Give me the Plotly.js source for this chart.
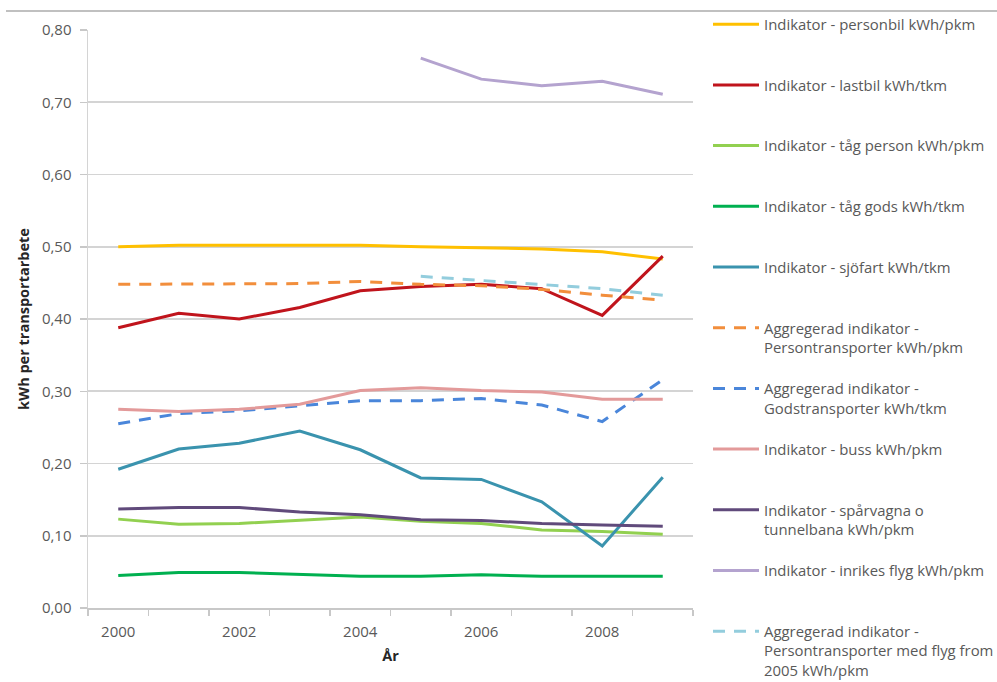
<!DOCTYPE html>
<html>
<head>
<meta charset="utf-8">
<script src="https://cdn.plot.ly/plotly-3.0.1.min.js"></script>
<style>html,body{margin:0;padding:0;background:#fff;}#chart{width:997px;height:682px;}</style>
</head>
<body>
<div id="chart"></div>
<script>
const years = [2000, 2001, 2002, 2003, 2004, 2005, 2006, 2007, 2008, 2009];
const yearsFrom2005 = [2005, 2006, 2007, 2008, 2009];

const personbil = [0.500, 0.502, 0.502, 0.502, 0.502, 0.500, 0.498, 0.497, 0.493, 0.483];
const lastbil = [0.388, 0.408, 0.400, 0.416, 0.439, 0.445, 0.448, 0.442, 0.405, 0.487];
const tagPerson = [0.123, 0.116, 0.117, 0.122, 0.126, 0.120, 0.117, 0.108, 0.106, 0.102];
const tagGods = [0.045, 0.049, 0.049, 0.047, 0.044, 0.044, 0.046, 0.044, 0.044, 0.044];
const sjofart = [0.192, 0.220, 0.228, 0.245, 0.219, 0.180, 0.178, 0.147, 0.086, 0.181];
const aggPerson = [0.448, 0.448, 0.448, 0.449, 0.452, 0.448, 0.446, 0.441, 0.433, 0.426];
const aggGods = [0.255, 0.269, 0.273, 0.280, 0.287, 0.287, 0.290, 0.281, 0.258, 0.316];
const buss = [0.275, 0.272, 0.275, 0.282, 0.301, 0.305, 0.301, 0.299, 0.289, 0.289];
const sparvagna = [0.137, 0.139, 0.139, 0.133, 0.129, 0.122, 0.121, 0.117, 0.115, 0.113];
const inrikesFlyg = [0.761, 0.732, 0.723, 0.729, 0.711];
const aggPersonFlyg = [0.459, 0.453, 0.448, 0.442, 0.433];

const seriesNames = [
  "Indikator - personbil kWh/pkm",
  "Indikator - lastbil kWh/tkm",
  "Indikator - tåg person kWh/pkm",
  "Indikator - tåg gods kWh/tkm",
  "Indikator - sjöfart kWh/tkm",
  "Aggregerad indikator -<br>Persontransporter kWh/pkm",
  "Aggregerad indikator -<br>Godstransporter kWh/tkm",
  "Indikator - buss kWh/pkm",
  "Indikator - spårvagna o<br>tunnelbana kWh/pkm",
  "Indikator - inrikes flyg kWh/pkm",
  "Aggregerad indikator -<br>Persontransporter med flyg from<br>2005 kWh/pkm"
];
const xTickVals = [2000, 2002, 2004, 2006, 2008];
const yTickVals = [0, 0.1, 0.2, 0.3, 0.4, 0.5, 0.6, 0.7, 0.8];

const specs = [
  {x: years, y: personbil, color: "#FFC000", dash: "solid"},
  {x: years, y: lastbil, color: "#C0141C", dash: "solid"},
  {x: years, y: tagPerson, color: "#92D050", dash: "solid"},
  {x: years, y: tagGods, color: "#00B050", dash: "solid"},
  {x: years, y: sjofart, color: "#3A93AE", dash: "solid"},
  {x: years, y: aggPerson, color: "#F28E3C", dash: "12px,9px"},
  {x: years, y: aggGods, color: "#4A86DA", dash: "12px,9px"},
  {x: years, y: buss, color: "#E39A9A", dash: "solid"},
  {x: years, y: sparvagna, color: "#604A7B", dash: "solid"},
  {x: yearsFrom2005, y: inrikesFlyg, color: "#B4A3CF", dash: "solid"},
  {x: yearsFrom2005, y: aggPersonFlyg, color: "#93CDDD", dash: "12px,9px"}
];

// plot area in pixels
const W = 997, H = 682;
const L = 88, R = 693, T = 30, B = 608;
const pw = R - L, ph = B - T;

const traces = specs.map((s, i) => ({
  type: "scatter",
  mode: "lines",
  x: s.x,
  y: s.y,
  name: seriesNames[i],
  line: {color: s.color, width: 3, dash: s.dash},
  legend: i === 0 ? "legend" : "legend" + (i + 1),
  hoverinfo: "skip"
}));

const legendFont = {family: "Open Sans, sans-serif", size: 14.9, color: "#595959"};
const layout = {
  width: W, height: H,
  margin: {l: L, r: W - R, t: T, b: H - B, pad: 0, autoexpand: false},
  paper_bgcolor: "#ffffff",
  plot_bgcolor: "#ffffff",
  separators: ", ",
  font: {family: "Open Sans, sans-serif", size: 15, color: "#595959"},
  xaxis: {
    range: [1999.5, 2009.5],
    tickmode: "array",
    tickvals: xTickVals,
    ticktext: xTickVals.map(String),
    ticks: "",
    ticklabelstandoff: 9,
    showgrid: false,
    zeroline: false,
    showline: true,
    linecolor: "#c8c8c8",
    linewidth: 1.5,
    automargin: false,
    tickfont: {family: "Open Sans, sans-serif", size: 15, color: "#595959"},
    minor: {tick0: 1999.5, dtick: 1, ticks: "outside", ticklen: 6, tickcolor: "#c8c8c8", tickwidth: 1.5, showgrid: false},
    title: {text: "<b>År</b>", font: {family: "Open Sans, sans-serif", size: 14.5, color: "#262626"}, standoff: 11},
    fixedrange: true
  },
  yaxis: {
    range: [0, 0.8],
    tickmode: "array",
    tickvals: yTickVals,
    tickformat: ".2f",
    ticks: "outside",
    ticklen: 7,
    ticklabelstandoff: 5,
    tickcolor: "#c8c8c8",
    tickwidth: 1.5,
    showgrid: true,
    gridcolor: "#d4d4d4",
    gridwidth: 1.8,
    zeroline: false,
    showline: true,
    linecolor: "#d4d4d4",
    linewidth: 1.5,
    automargin: false,
    tickfont: {family: "Open Sans, sans-serif", size: 15, color: "#595959"},
    title: {text: "<b>kWh per transportarbete</b>", font: {family: "Open Sans, sans-serif", size: 14.5, color: "#262626"}, standoff: 9},
    fixedrange: true
  },
  showlegend: true,
  shapes: [{
    type: "line", xref: "paper", yref: "paper",
    x0: (6 - L) / pw, x1: (997 - L) / pw,
    y0: (B - 11) / ph, y1: (B - 11) / ph,
    line: {color: "#c0c0c0", width: 2}
  }]
};

// one legend box per entry, stacked at a fixed pitch like the original
const legendLeftPx = 708;
const firstLinePx = 25, pitchPx = 60.7;
specs.forEach((s, i) => {
  const key = i === 0 ? "legend" : "legend" + (i + 1);
  const topPx = firstLinePx + pitchPx * i - 17;
  layout[key] = {
    x: (legendLeftPx - L) / pw,
    y: (B - topPx) / ph,
    xref: "paper", yref: "paper",
    xanchor: "left", yanchor: "top",
    valign: "top",
    bgcolor: "rgba(0,0,0,0)",
    borderwidth: 0,
    font: legendFont,
    itemwidth: 46
  };
});

Plotly.newPlot("chart", traces, layout, {displayModeBar: false, staticPlot: true});
</script>
</body>
</html>
